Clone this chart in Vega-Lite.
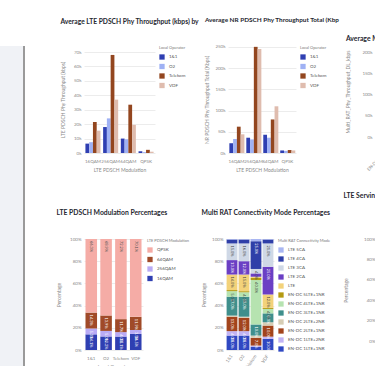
{
  "$schema": "https://vega.github.io/schema/vega-lite/v6.json",
  "padding": {"left": 0, "top": 17, "right": 0, "bottom": 0},
  "background": "white",
  "config": {
    "font": "Lato",
    "view": {"stroke": null},
    "title": {"fontSize": 6.8, "fontWeight": "bold", "anchor": "start", "color": "#262730", "font": "Lato"},
    "axis": {"labelFontSize": 4.5, "labelColor": "#8a8a8a", "titleFontSize": 5, "titleColor": "#8a8a8a", "titleFontWeight": "normal", "gridColor": "#ececec", "domain": false, "ticks": false, "labelPadding": 3, "titlePadding": 5},
    "axisX": {"grid": false, "labelPadding": 5},
    "legend": {"titleFontSize": 4, "titleFontWeight": "normal", "titleColor": "#777", "labelFontSize": 4.5, "labelColor": "#555", "symbolType": "square", "symbolSize": 28, "symbolStrokeWidth": 0, "rowPadding": 3.5, "offset": 4, "titlePadding": 4, "padding": 0}
  },
  "datasets": {
    "lte_thr": [
      {"mod": "16QAM", "op": "1&1", "v": 6500}, {"mod": "16QAM", "op": "O2", "v": 7500}, {"mod": "16QAM", "op": "Telekom", "v": 21500}, {"mod": "16QAM", "op": "VDF", "v": 15500},
      {"mod": "256QAM", "op": "1&1", "v": 18000}, {"mod": "256QAM", "op": "O2", "v": 24000}, {"mod": "256QAM", "op": "Telekom", "v": 68000}, {"mod": "256QAM", "op": "VDF", "v": 37000},
      {"mod": "64QAM", "op": "1&1", "v": 10000}, {"mod": "64QAM", "op": "O2", "v": 9500}, {"mod": "64QAM", "op": "Telekom", "v": 33500}, {"mod": "64QAM", "op": "VDF", "v": 19500},
      {"mod": "QPSK", "op": "1&1", "v": 1200}, {"mod": "QPSK", "op": "O2", "v": 600}, {"mod": "QPSK", "op": "Telekom", "v": 2200}, {"mod": "QPSK", "op": "VDF", "v": 900}
    ],
    "nr_thr": [
      {"mod": "16QAM", "op": "1&1", "v": 23000}, {"mod": "16QAM", "op": "O2", "v": 33000}, {"mod": "16QAM", "op": "Telekom", "v": 62000}, {"mod": "16QAM", "op": "VDF", "v": 44000},
      {"mod": "256QAM", "op": "1&1", "v": 36000}, {"mod": "256QAM", "op": "O2", "v": 32000}, {"mod": "256QAM", "op": "Telekom", "v": 250000}, {"mod": "256QAM", "op": "VDF", "v": 245000},
      {"mod": "64QAM", "op": "1&1", "v": 43000}, {"mod": "64QAM", "op": "O2", "v": 36000}, {"mod": "64QAM", "op": "Telekom", "v": 79000}, {"mod": "64QAM", "op": "VDF", "v": 110000},
      {"mod": "QPSK", "op": "1&1", "v": 6000}, {"mod": "QPSK", "op": "O2", "v": 5000}, {"mod": "QPSK", "op": "Telekom", "v": 7000}, {"mod": "QPSK", "op": "VDF", "v": 6000}
    ],
    "multi_thr": [
      {"mode": "EN-DC 1LTE+1NR", "op": "1&1", "v": 55000}, {"mode": "EN-DC 1LTE+1NR", "op": "O2", "v": 60000}, {"mode": "EN-DC 1LTE+1NR", "op": "Telekom", "v": 120000}, {"mode": "EN-DC 1LTE+1NR", "op": "VDF", "v": 90000},
      {"mode": "EN-DC 2LTE+1NR", "op": "1&1", "v": 70000}, {"mode": "EN-DC 2LTE+1NR", "op": "O2", "v": 75000}, {"mode": "EN-DC 2LTE+1NR", "op": "Telekom", "v": 160000}, {"mode": "EN-DC 2LTE+1NR", "op": "VDF", "v": 120000},
      {"mode": "EN-DC 3LTE+1NR", "op": "1&1", "v": 80000}, {"mode": "EN-DC 3LTE+1NR", "op": "O2", "v": 85000}, {"mode": "EN-DC 3LTE+1NR", "op": "Telekom", "v": 205000}, {"mode": "EN-DC 3LTE+1NR", "op": "VDF", "v": 140000}
    ],
    "mod_pct": [
      {"op": "1&1", "mod": "16QAM", "v": 0.141}, {"op": "1&1", "mod": "256QAM", "v": 0.053}, {"op": "1&1", "mod": "64QAM", "v": 0.143}, {"op": "1&1", "mod": "QPSK", "v": 0.663},
      {"op": "O2", "mod": "16QAM", "v": 0.122}, {"op": "O2", "mod": "256QAM", "v": 0.05}, {"op": "O2", "mod": "64QAM", "v": 0.139}, {"op": "O2", "mod": "QPSK", "v": 0.689},
      {"op": "Telekom", "mod": "16QAM", "v": 0.121}, {"op": "Telekom", "mod": "256QAM", "v": 0.04}, {"op": "Telekom", "mod": "64QAM", "v": 0.117}, {"op": "Telekom", "mod": "QPSK", "v": 0.722},
      {"op": "VDF", "mod": "16QAM", "v": 0.145}, {"op": "VDF", "mod": "256QAM", "v": 0.035}, {"op": "VDF", "mod": "64QAM", "v": 0.119}, {"op": "VDF", "mod": "QPSK", "v": 0.701}
    ],
    "rat_pct": [
      {"op": "1&1", "mode": "EN-DC 1LTE+1NR", "v": 0.13}, {"op": "1&1", "mode": "EN-DC 1LTE+2NR", "v": 0.04}, {"op": "1&1", "mode": "EN-DC 2LTE+1NR", "v": 0.13}, {"op": "1&1", "mode": "EN-DC 2LTE+2NR", "v": 0.01}, {"op": "1&1", "mode": "EN-DC 3LTE+1NR", "v": 0.17}, {"op": "1&1", "mode": "EN-DC 4LTE+1NR", "v": 0.05}, {"op": "1&1", "mode": "EN-DC 5LTE+1NR", "v": 0.01}, {"op": "1&1", "mode": "LTE", "v": 0.14}, {"op": "1&1", "mode": "LTE 2CA", "v": 0.13}, {"op": "1&1", "mode": "LTE 3CA", "v": 0.15}, {"op": "1&1", "mode": "LTE 4CA", "v": 0.035}, {"op": "1&1", "mode": "LTE 5CA", "v": 0.005},
      {"op": "O2", "mode": "EN-DC 1LTE+1NR", "v": 0.13}, {"op": "O2", "mode": "EN-DC 1LTE+2NR", "v": 0.04}, {"op": "O2", "mode": "EN-DC 2LTE+1NR", "v": 0.12}, {"op": "O2", "mode": "EN-DC 2LTE+2NR", "v": 0.01}, {"op": "O2", "mode": "EN-DC 3LTE+1NR", "v": 0.18}, {"op": "O2", "mode": "EN-DC 4LTE+1NR", "v": 0.04}, {"op": "O2", "mode": "EN-DC 5LTE+1NR", "v": 0.01}, {"op": "O2", "mode": "LTE", "v": 0.15}, {"op": "O2", "mode": "LTE 2CA", "v": 0.12}, {"op": "O2", "mode": "LTE 3CA", "v": 0.16}, {"op": "O2", "mode": "LTE 4CA", "v": 0.035}, {"op": "O2", "mode": "LTE 5CA", "v": 0.005},
      {"op": "Telekom", "mode": "EN-DC 1LTE+1NR", "v": 0.03}, {"op": "Telekom", "mode": "EN-DC 1LTE+2NR", "v": 0.01}, {"op": "Telekom", "mode": "EN-DC 2LTE+1NR", "v": 0.07}, {"op": "Telekom", "mode": "EN-DC 2LTE+2NR", "v": 0.02}, {"op": "Telekom", "mode": "EN-DC 3LTE+1NR", "v": 0.10}, {"op": "Telekom", "mode": "EN-DC 4LTE+1NR", "v": 0.40}, {"op": "Telekom", "mode": "EN-DC 5LTE+1NR", "v": 0.02}, {"op": "Telekom", "mode": "LTE", "v": 0.01}, {"op": "Telekom", "mode": "LTE 2CA", "v": 0.03}, {"op": "Telekom", "mode": "LTE 3CA", "v": 0.04}, {"op": "Telekom", "mode": "LTE 4CA", "v": 0.25}, {"op": "Telekom", "mode": "LTE 5CA", "v": 0.02},
      {"op": "VDF", "mode": "EN-DC 1LTE+1NR", "v": 0.10}, {"op": "VDF", "mode": "EN-DC 1LTE+2NR", "v": 0.02}, {"op": "VDF", "mode": "EN-DC 2LTE+1NR", "v": 0.10}, {"op": "VDF", "mode": "EN-DC 2LTE+2NR", "v": 0.03}, {"op": "VDF", "mode": "EN-DC 3LTE+1NR", "v": 0.08}, {"op": "VDF", "mode": "EN-DC 4LTE+1NR", "v": 0.04}, {"op": "VDF", "mode": "EN-DC 5LTE+1NR", "v": 0.01}, {"op": "VDF", "mode": "LTE", "v": 0.12}, {"op": "VDF", "mode": "LTE 2CA", "v": 0.25}, {"op": "VDF", "mode": "LTE 3CA", "v": 0.21}, {"op": "VDF", "mode": "LTE 4CA", "v": 0.035}, {"op": "VDF", "mode": "LTE 5CA", "v": 0.005}
    ],
    "serv_pct": [
      {"op": "1&1", "band": "B1", "v": 0.3}, {"op": "1&1", "band": "B3", "v": 0.4}, {"op": "1&1", "band": "B7", "v": 0.3},
      {"op": "O2", "band": "B1", "v": 0.25}, {"op": "O2", "band": "B3", "v": 0.45}, {"op": "O2", "band": "B7", "v": 0.3},
      {"op": "Telekom", "band": "B1", "v": 0.2}, {"op": "Telekom", "band": "B3", "v": 0.5}, {"op": "Telekom", "band": "B7", "v": 0.3},
      {"op": "VDF", "band": "B1", "v": 0.3}, {"op": "VDF", "band": "B3", "v": 0.35}, {"op": "VDF", "band": "B7", "v": 0.35}
    ]
  },
  "resolve": {"scale": {"color": "independent"}, "legend": {"color": "independent"}},
  "spacing": 31,
  "hconcat": [
    {
      "width": 24,
      "height": 349,
      "view": {"fill": "#f0f2f6", "stroke": null},
      "data": {"values": [{"e": 1}]},
      "mark": {"type": "rule", "color": "#9a9a9a", "strokeWidth": 2},
      "encoding": {"x": {"datum": 1, "type": "quantitative", "scale": {"domain": [0, 1]}, "axis": null}}
    },
    {
      "spacing": 11,
      "resolve": {"scale": {"color": "independent"}, "legend": {"color": "independent"}},
      "vconcat": [
        {
          "spacing": 5,
          "resolve": {"scale": {"color": "independent"}, "legend": {"color": "independent"}},
          "hconcat": [
            {
              "title": {"text": "Average LTE PDSCH Phy Throughput (kbps) by", "offset": 20, "fontSize": 6.7},
              "width": 71,
              "height": 107,
              "data": {"name": "lte_thr"},
              "mark": {"type": "bar"},
              "encoding": {
                "x": {"field": "mod", "type": "nominal", "sort": ["16QAM", "256QAM", "64QAM", "QPSK"], "scale": {"paddingInner": 0.15, "paddingOuter": 0.08}, "axis": {"title": "LTE PDSCH Modulation", "labelAngle": 0}},
                "xOffset": {"field": "op", "type": "nominal", "sort": ["1&1", "O2", "Telekom", "VDF"]},
                "y": {"field": "v", "type": "quantitative", "scale": {"domain": [0, 74200]}, "axis": {"title": "LTE PDSCH Phy Throughput (kbps)", "titlePadding": 8, "format": "~s", "values": [0, 10000, 20000, 30000, 40000, 50000, 60000, 70000]}},
                "color": {"field": "op", "type": "nominal", "scale": {"domain": ["1&1", "O2", "Telekom", "VDF"], "range": ["#2f3fb2", "#9fb1f4", "#93461f", "#dfbcae"]}, "legend": {"title": "Local Operator"}}
              }
            },
            {
              "title": {"text": "Average NR PDSCH Phy Throughput Total (Kbp", "offset": 20, "fontSize": 6.4},
              "width": 68,
              "height": 107,
              "data": {"name": "nr_thr"},
              "mark": {"type": "bar"},
              "encoding": {
                "x": {"field": "mod", "type": "nominal", "sort": ["16QAM", "256QAM", "64QAM", "QPSK"], "scale": {"paddingInner": 0.15, "paddingOuter": 0.08}, "axis": {"title": "LTE PDSCH Modulation", "labelAngle": 0}},
                "xOffset": {"field": "op", "type": "nominal", "sort": ["1&1", "O2", "Telekom", "VDF"]},
                "y": {"field": "v", "type": "quantitative", "scale": {"domain": [0, 252000]}, "axis": {"title": "NR PDSCH Phy Throughput Total (Kbps)", "format": "~s", "values": [0, 50000, 100000, 150000, 200000, 250000]}},
                "color": {"field": "op", "type": "nominal", "scale": {"domain": ["1&1", "O2", "Telekom", "VDF"], "range": ["#2f3fb2", "#9fb1f4", "#93461f", "#dfbcae"]}, "legend": {"title": "Local Operator"}}
              }
            },
            {
              "title": {"text": "Average Multi RAT Phy Throughput by Mode", "offset": 3},
              "width": 90,
              "height": 91,
              "data": {"name": "multi_thr"},
              "mark": {"type": "bar"},
              "encoding": {
                "x": {"field": "mode", "type": "nominal", "axis": {"title": "Multi RAT Connectivity Mode", "labelAngle": -45}},
                "xOffset": {"field": "op", "type": "nominal", "sort": ["1&1", "O2", "Telekom", "VDF"]},
                "y": {"field": "v", "type": "quantitative", "scale": {"domain": [0, 215000]}, "axis": {"title": "Multi_RAT_Phy_Throughput_DL_kbps", "titlePadding": 11, "format": "~s", "values": [0, 50000, 100000, 150000, 200000]}},
                "color": {"field": "op", "type": "nominal", "scale": {"domain": ["1&1", "O2", "Telekom", "VDF"], "range": ["#2f3fb2", "#9fb1f4", "#93461f", "#dfbcae"]}, "legend": {"title": "Local Operator"}}
              }
            }
          ]
        },
        {
          "spacing": 12,
          "resolve": {"scale": {"color": "independent"}, "legend": {"color": "independent"}},
          "hconcat": [
            {
              "title": {"text": "LTE PDSCH Modulation Percentages", "offset": 19},
              "width": 59,
              "height": 111,
              "data": {"name": "mod_pct"},
              "encoding": {
                "x": {"field": "op", "type": "nominal", "sort": ["1&1", "O2", "Telekom", "VDF"], "scale": {"paddingInner": 0.22, "paddingOuter": 0.1}, "axis": {"title": "Local Operator", "labelAngle": 0}},
                "y": {"field": "v", "type": "quantitative", "stack": "zero", "scale": {"domain": [0, 1]}, "axis": {"title": "Percentage", "titlePadding": 8, "format": ".0%", "values": [0, 0.2, 0.4, 0.6, 0.8, 1]}},
                "order": {"field": "mod", "type": "nominal", "sort": "ascending"}
              },
              "layer": [
                {
                  "mark": {"type": "bar"},
                  "encoding": {"color": {"field": "mod", "type": "nominal", "scale": {"domain": ["QPSK", "64QAM", "256QAM", "16QAM"], "range": ["#f5aca6", "#a04a28", "#b9abf5", "#2f3fb2"]}, "legend": {"title": "LTE PDSCH Modulation"}}}
                },
                {
                  "mark": {"type": "text", "angle": 90, "align": "left", "baseline": "middle", "dx": 2, "fontSize": 4},
                  "encoding": {
                    "detail": {"field": "mod"},
                    "text": {"field": "v", "type": "quantitative", "format": ".1%"},
                    "color": {"condition": {"test": "datum.mod === 'QPSK'", "value": "#555"}, "value": "white"}
                  }
                }
              ]
            },
            {
              "title": {"text": "Multi RAT Connectivity Mode Percentages", "offset": 19},
              "width": 48,
              "height": 111,
              "data": {"name": "rat_pct"},
              "encoding": {
                "x": {"field": "op", "type": "nominal", "sort": ["1&1", "O2", "Telekom", "VDF"], "scale": {"paddingInner": 0.1, "paddingOuter": 0.05}, "axis": {"title": "Local Operator", "labelAngle": -55}},
                "y": {"field": "v", "type": "quantitative", "stack": "zero", "scale": {"domain": [0, 1]}, "axis": {"title": "Percentage", "format": ".0%", "values": [0, 0.2, 0.4, 0.6, 0.8, 1]}},
                "order": {"field": "mode", "type": "nominal", "sort": "ascending"}
              },
              "layer": [
                {
                  "mark": {"type": "bar"},
                  "encoding": {"color": {"field": "mode", "type": "nominal", "scale": {"domain": ["LTE 5CA", "LTE 4CA", "LTE 3CA", "LTE 2CA", "LTE", "EN-DC 5LTE+1NR", "EN-DC 4LTE+1NR", "EN-DC 3LTE+1NR", "EN-DC 2LTE+2NR", "EN-DC 2LTE+1NR", "EN-DC 1LTE+2NR", "EN-DC 1LTE+1NR"], "range": ["#a9b6f2", "#2f3fa8", "#cfd8e6", "#6b3fc4", "#f3d27a", "#b49a12", "#b6e3b0", "#3f8f8c", "#d6cdb4", "#a2441c", "#c2b4f4", "#2f48c2"]}, "legend": {"title": "Multi RAT Connectivity Mode", "rowPadding": 3}}}
                },
                {
                  "mark": {"type": "text", "angle": 90, "align": "left", "baseline": "middle", "dx": 2, "fontSize": 4},
                  "encoding": {
                    "detail": {"field": "mode"},
                    "text": {"condition": {"test": "datum.v < 0.04", "value": ""}, "field": "v", "type": "quantitative", "format": ".1%"},
                    "color": {"condition": {"test": "datum.mode === 'LTE 3CA' || datum.mode === 'LTE' || datum.mode === 'EN-DC 4LTE+1NR'", "value": "#444"}, "value": "white"}
                  }
                }
              ]
            },
            {
              "title": {"text": "LTE Serving Band Percentages", "offset": 36},
              "width": 60,
              "height": 102,
              "data": {"name": "serv_pct"},
              "mark": {"type": "bar"},
              "encoding": {
                "x": {"field": "op", "type": "nominal", "sort": ["1&1", "O2", "Telekom", "VDF"], "axis": {"title": "Local Operator", "labelAngle": 0}},
                "y": {"field": "v", "type": "quantitative", "stack": "zero", "scale": {"domain": [0, 1]}, "axis": {"title": "Percentage", "titlePadding": 15, "format": ".0%", "values": [0, 0.2, 0.4, 0.6, 0.8, 1]}},
                "color": {"field": "band", "type": "nominal", "scale": {"range": ["#a9c6f2", "#2f3fa8", "#cfd8e6"]}, "legend": {"title": "LTE Band"}}
              }
            }
          ]
        }
      ]
    }
  ]
}
